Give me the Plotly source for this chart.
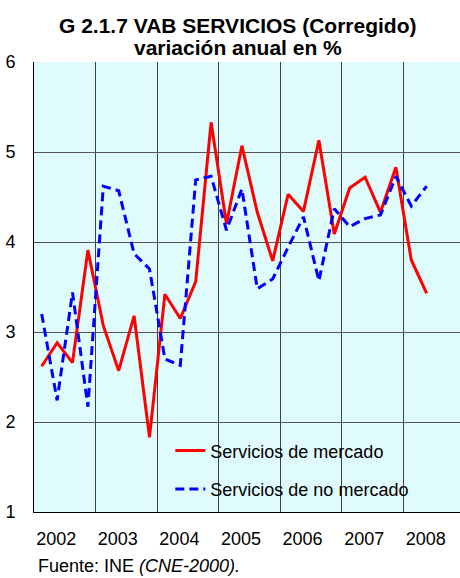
import plotly.graph_objects as go

years = [2002, 2003, 2004, 2005, 2006, 2007, 2008]
quarters = [(y, q) for y in years for q in range(1, 5)][:26]

mercado = [2.62, 2.88, 2.66, 3.91, 3.07, 2.57, 3.18, 1.83,
           3.42, 3.15, 3.56, 5.33, 4.20, 5.07, 4.33, 3.79,
           4.53, 4.34, 5.13, 4.09, 4.60, 4.72, 4.33, 4.83,
           3.80, 3.43]
no_mercado = [3.20, 2.24, 3.44, 2.17, 4.62, 4.57, 3.87, 3.70,
              2.70, 2.63, 4.69, 4.73, 4.13, 4.59, 3.48, 3.59,
              3.94, 4.28, 3.57, 4.37, 4.17, 4.26, 4.30, 4.73,
              4.40, 4.62]

# quarter centres on a numeric year axis
x = [y + (q - 0.5) / 4 for y, q in quarters]

FONT = "Liberation Sans, Arial, sans-serif"

fig = go.Figure()
fig.add_trace(go.Scatter(
    x=x, y=mercado, mode="lines", name="Servicios de mercado",
    line=dict(color="#FF0000", width=3), legendgroup="a",
))
fig.add_trace(go.Scatter(
    x=x, y=no_mercado, mode="lines", name="Servicios de no mercado",
    line=dict(color="#0000FF", width=3, dash="9px,5px"), legendgroup="b",
))

fig.update_layout(
    width=460,
    height=578,
    margin=dict(l=34, r=0, t=62, b=66),
    paper_bgcolor="white",
    plot_bgcolor="#E0FBFC",
    font=dict(family=FONT, size=18, color="black"),
    showlegend=True,
    legend=dict(
        x=0.32, y=0.177, xanchor="left", yanchor="top",
        bgcolor="rgba(0,0,0,0)", font=dict(size=18),
        traceorder="grouped", tracegroupgap=12,
    ),
    annotations=[
        dict(text="<b>G 2.1.7 VAB SERVICIOS (Corregido)</b>", x=0.478, y=1.08,
             xref="paper", yref="paper", showarrow=False, xanchor="center",
             yanchor="middle", font=dict(size=21)),
        dict(text="<b>variación anual en %</b>", x=0.478, y=1.032,
             xref="paper", yref="paper", showarrow=False, xanchor="center",
             yanchor="middle", font=dict(size=21)),
        dict(text="Fuente: INE <i>(CNE-2000).</i>", x=0.005, y=-0.12,
             xref="paper", yref="paper", showarrow=False, xanchor="left",
             yanchor="middle", font=dict(size=18)),
    ],
)

fig.update_xaxes(
    range=[2002, 2008.916],
    tickvals=[y + 0.36 for y in years],
    ticktext=[str(y) for y in years],
    showgrid=False,
    ticks="",
    ticklabelstandoff=10,
    automargin=False,
    minor=dict(tickvals=years[1:], showgrid=True, gridcolor="#404040", gridwidth=1),
    showline=True, linecolor="black", linewidth=1,
    zeroline=False,
)
fig.update_yaxes(
    range=[1, 6],
    tickvals=[1, 2, 3, 4, 5, 6],
    showgrid=True, gridcolor="#555555", gridwidth=1,
    ticks="",
    ticklabelstandoff=14,
    automargin=False,
    showline=True, linecolor="black", linewidth=1,
    zeroline=False,
)

# the page has a default 8px body margin; drop it so the figure fills the window
fig.write_html(
    "out.html",
    config={"displayModeBar": False},
    post_script="document.body.style.margin='0';",
)
